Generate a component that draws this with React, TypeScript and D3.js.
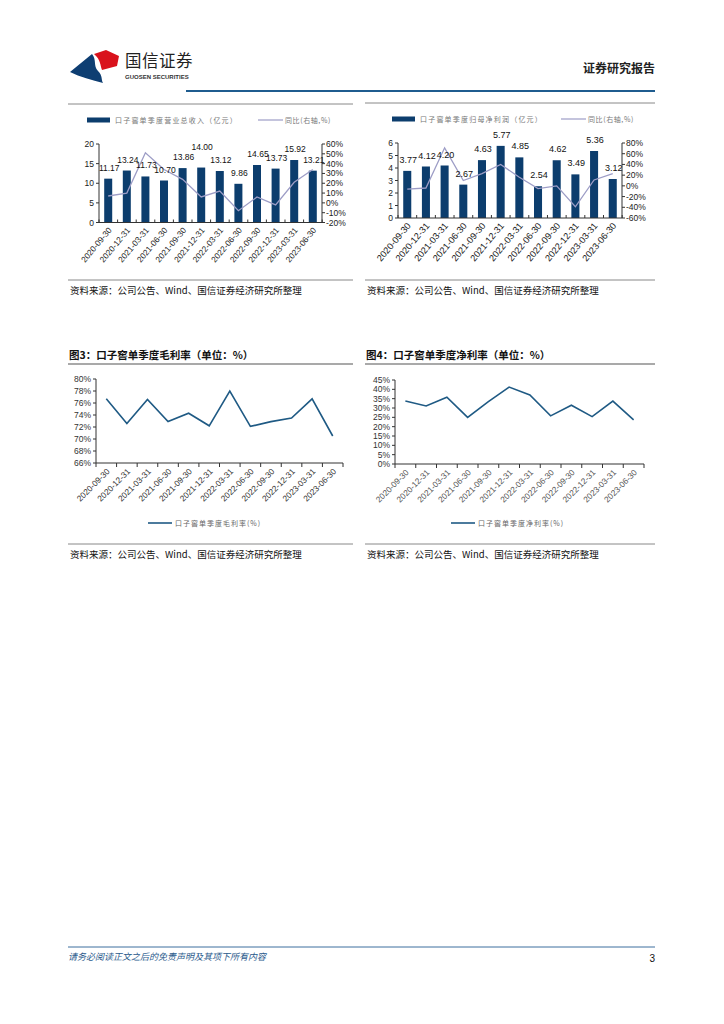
import React from "react";
import * as d3 from "d3";

// quarter-end dates shared by all four charts
const quarters = [
  "2020-09-30", "2020-12-31", "2021-03-31", "2021-06-30",
  "2021-09-30", "2021-12-31", "2022-03-31", "2022-06-30",
  "2022-09-30", "2022-12-31", "2023-03-31", "2023-06-30",
];

// 图1: 单季度营业总收入 (亿元) + 同比 (%)
const revenue = [11.17, 13.24, 11.73, 10.7, 13.86, 14.0, 13.12, 9.86, 14.65, 13.73, 15.92, 13.21];
const revenueYoy = [7, 10, 51, 34, 24, 6, 12, -8, 6, -2, 21, 34];

// 图2: 单季度归母净利润 (亿元) + 同比 (%)
const profit = [3.77, 4.12, 4.2, 2.67, 4.63, 5.77, 4.85, 2.54, 4.62, 3.49, 5.36, 3.12];
const profitYoy = [-6, -4, 71, 10, 23, 40, 16, -5, 0, -39, 11, 23];

// 图3 / 图4: 毛利率, 净利率 (%)
const grossMargin = [76.7, 72.6, 76.6, 72.9, 74.3, 72.2, 78.0, 72.1, 72.9, 73.5, 76.7, 70.5];
const netMargin = [33.8, 31.1, 35.8, 25.0, 33.4, 41.2, 37.0, 25.8, 31.5, 25.4, 33.7, 23.6];

const revenueTicks = [0, 5, 10, 15, 20];
const revenueYoyTicks = [-20, -10, 0, 10, 20, 30, 40, 50, 60];
const profitTicks = [0, 1, 2, 3, 4, 5, 6];
const profitYoyTicks = [-60, -40, -20, 0, 20, 40, 60, 80];
const grossTicks = [66, 68, 70, 72, 74, 76, 78, 80];
const netTicks = [0, 5, 10, 15, 20, 25, 30, 35, 40, 45];

const NUM = "'Liberation Sans', Arial, sans-serif";
const CJK = "'Noto Sans CJK SC', 'Noto Sans', sans-serif";
const BAR = "#0c3d6d";
const YOY = "#9d9dc6";
const LINE = "#1f5a84";
const SOURCE = "资料来源：公司公告、Wind、国信证券经济研究所整理";

type BarLineProps = {
  left: number;
  right: number;
  frameLeft: number;
  frameRight: number;
  top: number;
  bottom: number;
  bars: number[];
  yoy: number[];
  barTicks: number[];
  yoyTicks: number[];
  barLegend: string;
  swatchA: number;
  swatchB: number;
  labelSize: number;
  tickLabelSize: number;
};

const BarLineChart: React.FC<BarLineProps> = ({
  left, right, frameLeft, frameRight, top, bottom, bars, yoy,
  barTicks, yoyTicks, barLegend, swatchA, swatchB, labelSize, tickLabelSize,
}) => {
  const x = d3.scaleBand<string>().domain(quarters).range([left, right]).paddingInner(0.57).paddingOuter(0.28);
  const y = d3.scaleLinear().domain(d3.extent(barTicks) as [number, number]).range([bottom, top]);
  const y2 = d3.scaleLinear().domain(d3.extent(yoyTicks) as [number, number]).range([bottom, top]);
  const step = x.step();
  const cx = (i: number) => (x(quarters[i]) as number) + x.bandwidth() / 2;
  const line = d3
    .line<number>()
    .x((_, i) => cx(i))
    .y((d) => y2(d));
  const frameTop = top - 40;

  // value labels: nudge a label up when it would sit on top of its neighbour
  const labels: { cx: number; y: number; text: string }[] = [];
  bars.forEach((v, i) => {
    const text = v.toFixed(2);
    const w = text.length * labelSize * 0.48;
    let ly = y(v) - 8;
    const prev = labels[i - 1];
    if (prev) {
      const pw = prev.text.length * labelSize * 0.48;
      if (Math.abs(cx(i) - prev.cx) < (w + pw) / 2 && Math.abs(ly - prev.y) < 3) ly = prev.y - 10;
    }
    labels.push({ cx: cx(i), y: ly, text });
  });

  return (
    <g>
      <line x1={frameLeft} x2={frameRight} y1={frameTop} y2={frameTop} stroke="#888" strokeWidth={1} />
      {/* legend */}
      <rect x={swatchA} y={top - 26.5} width={23} height={5} fill={BAR} />
      <text x={swatchA + 28} y={top - 21.5} fontSize={7} fill="#777" fontFamily={CJK} letterSpacing={1.2}>
        {barLegend}
      </text>
      <line x1={swatchB} x2={swatchB + 25} y1={top - 24} y2={top - 24} stroke={YOY} strokeWidth={1.2} />
      <text x={swatchB + 27} y={top - 21.5} fontSize={7} fill="#777" fontFamily={CJK} letterSpacing={0.6}>
        同比(右轴,%)
      </text>
      {/* bars */}
      {bars.map((v, i) => (
        <rect key={i} x={x(quarters[i])} y={y(v)} width={x.bandwidth()} height={bottom - y(v)} fill={BAR} />
      ))}
      <path d={line(yoy) || ""} fill="none" stroke={YOY} strokeWidth={1.3} />
      {labels.map((l, i) => (
        <text key={i} x={l.cx + 1} y={l.y} fontSize={labelSize} fontFamily={NUM} textAnchor="middle" fill="#111">
          {l.text}
        </text>
      ))}
      {/* left axis */}
      <line x1={left} x2={left} y1={top} y2={bottom} stroke="#333" />
      {barTicks.map((t) => (
        <g key={t}>
          <line x1={left - 3} x2={left} y1={y(t)} y2={y(t)} stroke="#333" />
          <text x={left - 5} y={y(t) + 3} fontSize={8.5} fontFamily={NUM} textAnchor="end" fill="#222">
            {t}
          </text>
        </g>
      ))}
      {/* right axis */}
      <line x1={right} x2={right} y1={top} y2={bottom} stroke="#333" />
      {yoyTicks.map((t) => (
        <g key={t}>
          <line x1={right} x2={right + 3} y1={y2(t)} y2={y2(t)} stroke="#333" />
          <text x={right + 4} y={y2(t) + 3} fontSize={8.5} fontFamily={NUM} fill="#222">
            {t}%
          </text>
        </g>
      ))}
      {/* bottom axis */}
      <line x1={left} x2={right} y1={bottom} y2={bottom} stroke="#333" />
      {d3.range(quarters.length + 1).map((i) => (
        <line key={i} x1={left + i * step} x2={left + i * step} y1={bottom} y2={bottom - 3} stroke="#333" />
      ))}
      {quarters.map((q, i) => (
        <text
          key={q}
          transform={`translate(${cx(i) + 4},${bottom + 8}) rotate(-50)`}
          fontSize={tickLabelSize}
          fontFamily={NUM}
          textAnchor="end"
          fill="#222"
        >
          {q}
        </text>
      ))}
      <line x1={frameLeft} x2={frameRight} y1={280} y2={280} stroke="#888" strokeWidth={1} />
      <text x={frameLeft + 2} y={294} fontSize={9.5} fontFamily={CJK} fill="#111">
        {SOURCE}
      </text>
    </g>
  );
};

type LineProps = {
  left: number;
  right: number;
  frameLeft: number;
  frameRight: number;
  top: number;
  bottom: number;
  values: number[];
  ticks: number[];
  title: string;
  legend: string;
  swatch: number;
  labelColor: string;
};

const MarginChart: React.FC<LineProps> = ({
  left, right, frameLeft, frameRight, top, bottom, values, ticks, title, legend, swatch, labelColor,
}) => {
  const x = d3.scaleBand<string>().domain(quarters).range([left, right]);
  const y = d3.scaleLinear().domain(d3.extent(ticks) as [number, number]).range([bottom, top]);
  const line = d3
    .line<number>()
    .x((_, i) => (x(quarters[i]) as number) + x.bandwidth() / 2)
    .y((d) => y(d));
  return (
    <g>
      <text x={frameLeft + 1} y={359} fontSize={10.5} fontFamily={CJK} fontWeight={700} fill="#111">
        {title}
      </text>
      <line x1={frameLeft} x2={frameRight} y1={364} y2={364} stroke="#555" strokeWidth={1.2} />
      <line x1={left} x2={left} y1={top} y2={bottom} stroke="#333" />
      {ticks.map((t) => (
        <g key={t}>
          <line x1={left - 3} x2={left} y1={y(t)} y2={y(t)} stroke="#333" />
          <text x={left - 5} y={y(t) + 3} fontSize={8.5} fontFamily={NUM} textAnchor="end" fill="#333">
            {t}%
          </text>
        </g>
      ))}
      <line x1={left} x2={right} y1={bottom} y2={bottom} stroke="#333" />
      {d3.range(quarters.length + 1).map((i) => (
        <line key={i} x1={left + i * x.step()} x2={left + i * x.step()} y1={bottom} y2={bottom + 4} stroke="#333" />
      ))}
      <path d={line(values) || ""} fill="none" stroke={LINE} strokeWidth={1.6} />
      {quarters.map((q) => {
        const cx = (x(q) as number) + x.bandwidth() / 2 + 4;
        const cy = bottom + 9;
        return (
          <text
            key={q}
            transform={`translate(${cx},${cy}) rotate(-45)`}
            fontSize={8.3}
            fontFamily={NUM}
            textAnchor="end"
            fill={labelColor}
          >
            {q}
          </text>
        );
      })}
      <line x1={swatch} x2={swatch + 24} y1={523} y2={523} stroke={LINE} strokeWidth={1.6} />
      <text x={swatch + 27} y={525.5} fontSize={7} fontFamily={CJK} fill="#666" letterSpacing={1}>
        {legend}
      </text>
      <line x1={frameLeft} x2={frameRight} y1={544} y2={544} stroke="#888" strokeWidth={1} />
      <text x={frameLeft + 2} y={558} fontSize={9.5} fontFamily={CJK} fill="#111">
        {SOURCE}
      </text>
    </g>
  );
};

const Header: React.FC = () => (
  <g>
    <path d="M70,72 L92,54 C97,60 93,66 98,71 C103,76 101,80 103,83 C92,80 80,77 70,72 Z" fill="#0e3e72" />
    <path d="M94,54 L106,50 L119,56 L117,66 L102,70 C100,65 101,60 94,54 Z" fill="#d9121c" />
    <text x={125} y={67} fontSize={16.5} fontFamily={CJK} fill="#222" letterSpacing={0.5}>
      国信证券
    </text>
    <text x={125} y={79} fontSize={6} fontFamily={NUM} fontWeight={700} fill="#333">
      GUOSEN SECURITIES
    </text>
    <text x={655} y={73} fontSize={12} fontFamily={CJK} fontWeight={700} textAnchor="end" fill="#222">
      证券研究报告
    </text>
    <line x1={186} x2={655} y1={91} y2={91} stroke="#1f5c8f" strokeWidth={2} />
  </g>
);

const Footer: React.FC = () => (
  <g>
    <line x1={68} x2={655} y1={947} y2={947} stroke="#3d6f9e" strokeWidth={1} />
    <text x={68} y={960} fontSize={9} fontFamily={CJK} fontStyle="italic" fill="#2a5a8c">
      请务必阅读正文之后的免责声明及其项下所有内容
    </text>
    <text x={655} y={962} fontSize={10} fontFamily={NUM} textAnchor="end" fill="#111">
      3
    </text>
  </g>
);

export default function App() {
  return (
    <svg
      width={724}
      height={1024}
      viewBox="0 0 724 1024"
      style={{ position: "absolute", left: 0, top: 0, background: "#fff" }}
    >
      <rect width={724} height={1024} fill="#fff" />
      <Header />
      <BarLineChart
        left={99}
        right={322}
        frameLeft={68}
        frameRight={353}
        top={144}
        bottom={222.5}
        bars={revenue}
        yoy={revenueYoy}
        barTicks={revenueTicks}
        yoyTicks={revenueYoyTicks}
        barLegend="口子窖单季度营业总收入（亿元）"
        swatchA={87}
        swatchB={258}
        labelSize={8.5}
        tickLabelSize={8.3}
      />
      <BarLineChart
        left={398}
        right={622}
        frameLeft={365}
        frameRight={655}
        top={143}
        bottom={218}
        bars={profit}
        yoy={profitYoy}
        barTicks={profitTicks}
        yoyTicks={profitYoyTicks}
        barLegend="口子窖单季度归母净利润（亿元）"
        swatchA={392}
        swatchB={561}
        labelSize={9}
        tickLabelSize={9.2}
      />
      <MarginChart
        left={96}
        right={343}
        frameLeft={68}
        frameRight={353}
        top={379}
        bottom={463}
        values={grossMargin}
        ticks={grossTicks}
        title="图3：口子窖单季度毛利率（单位：%）"
        legend="口子窖单季度毛利率(%)"
        swatch={148}
        labelColor="#333"
      />
      <MarginChart
        left={395}
        right={644}
        frameLeft={365}
        frameRight={655}
        top={380}
        bottom={464}
        values={netMargin}
        ticks={netTicks}
        title="图4：口子窖单季度净利率（单位：%）"
        legend="口子窖单季度净利率(%)"
        swatch={451}
        labelColor="#555"
      />
      <Footer />
    </svg>
  );
}
